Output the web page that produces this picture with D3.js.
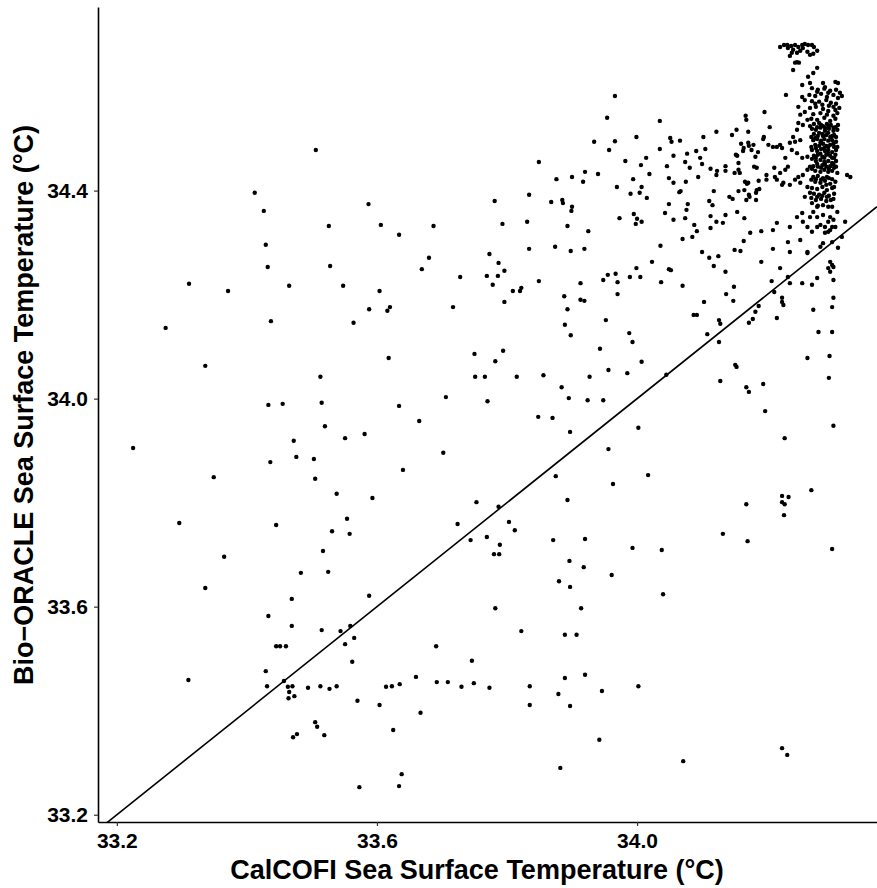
<!DOCTYPE html>
<html>
<head>
<meta charset="utf-8">
<script src="https://cdn.jsdelivr.net/npm/d3@7"></script>
<style>
  html, body { margin: 0; padding: 0; background: #fff; }
  svg { display: block; font-family: "Liberation Sans", Arial, sans-serif; }
</style>
</head>
<body>
<div id="chart"></div>
<script>
// Axis ticks and limits
const xTicks = [33.2, 33.6, 34.0];
const yTicks = [33.2, 33.6, 34.0, 34.4];
const xDomain = [33.171, 34.369];
const yDomain = [33.186, 34.753];

// [CalCOFI SST, Bio-ORACLE SST] per station
const westPairs = [
  [33.412,34.396],[33.426,34.361],[33.526,34.332],[33.429,34.296],[33.432,34.253],[33.528,34.255],
  [33.311,34.221],[33.371,34.207],[33.465,34.217],[33.548,34.217],[33.437,34.149],[33.564,34.146],
  [33.275,34.136],[33.336,34.063],[33.513,34.042],[33.433,33.988],[33.455,33.990],[33.515,33.992],
  [33.520,33.947],[33.551,33.924],[33.472,33.919],[33.225,33.905],[33.476,33.888],[33.503,33.884],
  [33.436,33.878],[33.349,33.849],[33.505,33.846],[33.538,33.817],[33.506,34.478],
  [33.296,33.761],[33.445,33.757],[33.554,33.769],[33.531,33.745],[33.558,33.740],[33.365,33.696],
  [33.517,33.707],[33.483,33.665],[33.525,33.667],[33.336,33.636],[33.469,33.615],[33.433,33.582],
  [33.469,33.563],[33.515,33.555],[33.544,33.553],[33.559,33.563],[33.565,33.540],[33.551,33.528],
  [33.445,33.524],[33.451,33.524],[33.460,33.524],[33.562,33.494],[33.429,33.476],[33.310,33.459],
  [33.457,33.457],[33.431,33.447],[33.463,33.446],[33.470,33.447],[33.465,33.436],[33.464,33.424],
  [33.473,33.428],[33.494,33.444],[33.513,33.447],[33.527,33.442],[33.538,33.447],[33.570,33.419],
  [33.505,33.378],[33.508,33.369],[33.519,33.353],[33.471,33.349],[33.477,33.355],[33.573,33.253]
];

const centralNorthPairs = [
  [33.966,34.582],[33.954,34.540],[33.934,34.494],[33.966,34.495],[33.957,34.478],[33.849,34.455],
  [33.876,34.422],[33.900,34.426],[33.920,34.436],[33.917,34.417],[33.940,34.432],[33.969,34.407],
  [33.587,34.374],[33.781,34.380],[33.834,34.392],[33.868,34.378],[33.885,34.382],[33.886,34.376],
  [33.900,34.369],[33.899,34.361],[33.973,34.347],[33.606,34.334],[33.687,34.332],[33.793,34.336],
  [33.831,34.340],[33.893,34.332],[33.925,34.322],[33.634,34.315],[33.834,34.288],[33.874,34.292],
  [33.898,34.284],[33.919,34.288],[33.773,34.278],[33.680,34.271],[33.669,34.249],[33.787,34.261],
  [33.796,34.246],[33.728,34.234],[33.769,34.236],[33.786,34.236],[33.778,34.219],[33.849,34.226],
  [33.809,34.207],[33.820,34.207],[33.822,34.213],[33.796,34.186],[33.604,34.207],[33.588,34.172],
  [33.616,34.169],[33.620,34.176],[33.717,34.176],[33.913,34.222],[33.888,34.197],[33.913,34.190],
  [33.919,34.188],[33.893,34.172],[33.948,34.228],[33.955,34.238],[33.967,34.240],[33.970,34.224],
  [33.970,34.201],[33.889,34.142],[33.898,34.122],[33.952,34.151],[33.943,34.096],[33.618,34.078],
  [33.750,34.086],[33.782,34.072],[33.794,34.092],[33.751,34.042],[33.766,34.042],[33.815,34.042],
  [33.856,34.045],[33.927,34.042],[33.956,34.055],[33.884,34.022],[33.706,34.003],[33.770,33.995],
  [33.895,34.001],[33.924,33.997],[33.948,33.997],[33.634,33.986],[33.665,33.957],[33.848,33.965],
  [33.870,33.963],[33.581,33.932],[33.897,33.936],[33.956,33.903]
];

const centralSouthPairs = [
  [33.702,33.896],[33.640,33.863],[33.593,33.809],[33.753,33.801],[33.787,33.792],[33.875,33.851],
  [33.893,33.805],[33.963,33.836],[33.724,33.759],[33.803,33.763],[33.812,33.747],[33.744,33.728],
  [33.769,33.734],[33.789,33.719],[33.780,33.701],[33.788,33.701],[33.871,33.728],[33.920,33.730],
  [33.896,33.688],[33.918,33.676],[33.961,33.661],[33.880,33.649],[33.897,33.638],[33.588,33.621],
  [33.782,33.597],[33.914,33.597],[33.822,33.553],[33.889,33.546],[33.907,33.546],[33.691,33.524],
  [33.746,33.496],[33.660,33.465],[33.614,33.446],[33.623,33.447],[33.635,33.451],[33.692,33.455],
  [33.709,33.455],[33.730,33.446],[33.749,33.453],[33.773,33.444],[33.835,33.447],[33.889,33.463],
  [33.920,33.469],[33.879,33.432],[33.946,33.438],[33.604,33.411],[33.667,33.396],[33.835,33.411],
  [33.897,33.409],[33.625,33.363],[33.942,33.344],[33.882,33.290],[33.638,33.278],[33.634,33.255]
];

const eastSouthPairs = [
  [33.988,34.126],[33.993,34.109],[34.007,34.071],[33.985,34.049],[34.045,34.046],[34.108,34.124],
  [34.126,34.109],[34.128,34.034],[34.151,34.065],[34.153,34.061],[34.168,34.022],[34.172,34.013],
  [34.194,34.028],[34.197,33.976],[34.262,34.078],[34.279,34.128],[34.300,34.128],[34.296,34.082],
  [34.295,34.040],[34.302,33.948],[34.002,33.944],[34.227,33.924],[34.017,33.853],[34.268,33.824],
  [34.223,33.813],[34.233,33.811],[34.223,33.801],[34.227,33.797],[34.226,33.776],[34.168,33.797],
  [34.132,33.740],[34.170,33.726],[33.993,33.713],[34.038,33.709],[34.300,33.711],[34.040,33.624],
  [34.002,33.447],[34.223,33.328],[34.231,33.315],[34.071,33.303]
];

const eastNorthPairs = [
  [34.035,34.534],[33.999,34.503],[33.982,34.457],[34.014,34.463],[34.006,34.449],[34.019,34.432],
  [33.994,34.422],[34.007,34.407],[33.990,34.394],[34.004,34.396],[34.015,34.386],[33.995,34.355],
  [34.000,34.346],[33.998,34.336],[34.007,34.340],[34.035,34.480],[34.051,34.501],[34.053,34.494],
  [34.066,34.496],[34.056,34.467],[34.046,34.447],[34.049,34.424],[34.056,34.415],[34.065,34.397],
  [34.067,34.399],[34.075,34.417],[34.074,34.455],[34.077,34.471],[34.081,34.444],[34.091,34.476],
  [34.097,34.463],[34.102,34.503],[34.105,34.480],[34.100,34.451],[34.094,34.426],[34.122,34.513],
  [34.146,34.507],[34.153,34.517],[34.167,34.544],[34.168,34.536],[34.196,34.551],[34.204,34.522],
  [34.194,34.499],[34.195,34.503],[34.171,34.513],[34.160,34.490],[34.164,34.482],[34.163,34.476],
  [34.171,34.492],[34.172,34.486],[34.179,34.488],[34.176,34.478],[34.186,34.474],[34.182,34.465],
  [34.152,34.469],[34.154,34.467],[34.156,34.453],[34.113,34.442],[34.123,34.438],[34.122,34.430],
  [34.136,34.447],[34.136,34.438],[34.150,34.434],[34.156,34.440],[34.158,34.434],[34.180,34.446],
  [34.184,34.444],[34.199,34.430],[34.211,34.444],[34.209,34.484],[34.202,34.488],[34.166,34.417],
  [34.169,34.413],[34.171,34.415],[34.165,34.401],[34.172,34.392],[34.173,34.388],[34.184,34.401],
  [34.188,34.403],[34.183,34.396],[34.187,34.419],[34.199,34.421],[34.183,34.382],[34.168,34.382],
  [34.156,34.399],[34.147,34.384],[34.142,34.388],[34.118,34.399],[34.111,34.380],[34.116,34.372],
  [34.049,34.374],[34.078,34.374],[34.076,34.363],[34.043,34.357],[34.056,34.344],[34.074,34.347],
  [34.088,34.334],[34.092,34.322],[34.085,34.311],[34.070,34.307],[34.113,34.351],[34.113,34.328],
  [34.122,34.340],[34.132,34.338],[34.136,34.353],[34.154,34.359],[34.165,34.347],[34.174,34.319],
  [34.191,34.322],[34.209,34.324],[34.164,34.303],[34.150,34.286],[34.159,34.284],[34.100,34.282],
  [34.111,34.271],[34.125,34.274],[34.118,34.255],[34.136,34.244],[34.036,34.294],[34.023,34.263],
  [34.049,34.249],[34.052,34.247],[33.999,34.251],[34.005,34.234],[33.989,34.234],[34.037,34.224],
  [34.070,34.217],[34.191,34.263],[34.209,34.288],[34.207,34.226],[34.149,34.215],[34.137,34.201],
  [34.148,34.188],[34.103,34.186],[34.087,34.161],[34.092,34.161],[34.126,34.151],[34.128,34.144],
  [34.187,34.178],[34.182,34.167],[34.178,34.153],[34.172,34.146],[34.211,34.205]
];

const clusterEdgePairs = [
  [34.220,34.676],[34.226,34.680],[34.231,34.680],[34.232,34.674],[34.237,34.678],[34.240,34.671],
  [34.243,34.680],[34.248,34.676],[34.254,34.680],[34.258,34.682],[34.263,34.680],[34.269,34.680],
  [34.272,34.676],[34.277,34.669],[34.271,34.663],[34.266,34.661],[34.262,34.667],[34.251,34.669],
  [34.246,34.665],[34.238,34.665],[34.235,34.659],[34.255,34.674],
  [34.246,34.647],[34.249,34.646],[34.243,34.646],[34.240,34.632],[34.277,34.636],[34.271,34.626],
  [34.263,34.619],[34.254,34.603],[34.266,34.607],[34.286,34.607],[34.289,34.599],[34.305,34.609],
  [34.309,34.607],[34.229,34.584],[34.258,34.574],[34.248,34.561],[34.258,34.551],[34.315,34.582],
  [34.254,34.580],[34.251,34.546],
  [34.215,34.484],[34.220,34.488],[34.223,34.482],[34.240,34.503],[34.246,34.517],[34.248,34.530],
  [34.255,34.526],[34.262,34.536],[34.235,34.492],[34.243,34.494],[34.251,34.497],[34.238,34.478],
  [34.246,34.472],[34.228,34.463],[34.254,34.463],[34.262,34.465],[34.232,34.446],[34.228,34.440],
  [34.220,34.434],[34.212,34.426],[34.225,34.415],[34.235,34.411],[34.243,34.421],[34.248,34.426],
  [34.255,34.430],[34.262,34.440],[34.266,34.446],[34.251,34.415],[34.262,34.407],[34.266,34.396],
  [34.258,34.388],[34.269,34.376],[34.277,34.369],[34.215,34.421],[34.223,34.411],[34.323,34.430],
  [34.328,34.426],
  [34.271,34.359],[34.266,34.349],[34.277,34.349],[34.286,34.353],[34.297,34.349],[34.294,34.340],
  [34.302,34.344],[34.282,34.334],[34.289,34.330],[34.300,34.330],[34.305,34.330],[34.320,34.340],
  [34.308,34.359],[34.300,34.369],[34.254,34.357],[34.246,34.349],[34.255,34.340],[34.215,34.338],
  [34.235,34.330],[34.262,34.330],[34.277,34.330],[34.269,34.321],[34.289,34.319],[34.294,34.321],
  [34.297,34.324],[34.315,34.311],[34.300,34.301],[34.286,34.299],[34.282,34.292],[34.262,34.282],
  [34.262,34.280],[34.251,34.305],[34.232,34.301],[34.235,34.282],[34.309,34.290],[34.297,34.263],
  [34.300,34.257],[34.294,34.251],[34.302,34.253],[34.297,34.244],[34.220,34.251],[34.232,34.234],
  [34.235,34.222],[34.254,34.222],[34.269,34.219],[34.277,34.232],[34.302,34.228],[34.223,34.194],
  [34.223,34.186],[34.225,34.180],[34.271,34.171],[34.300,34.176],[34.302,34.194],[34.215,34.155]
];

const clusterCorePairs = [
  [34.269,34.597],[34.278,34.594],[34.288,34.596],[34.297,34.592],[34.306,34.594],[34.312,34.588],
  [34.265,34.584],[34.274,34.582],[34.283,34.586],[34.292,34.580],[34.302,34.584],[34.309,34.578],
  [34.269,34.572],[34.280,34.571],[34.291,34.574],[34.298,34.569],[34.306,34.567],
  [34.266,34.559],[34.275,34.561],[34.286,34.557],[34.295,34.563],[34.305,34.555],[34.311,34.559],
  [34.271,34.547],[34.282,34.549],[34.292,34.546],[34.302,34.544],[34.308,34.549],
  [34.268,34.538],[34.277,34.536],[34.288,34.540],[34.297,34.534],[34.305,34.538],
  [34.272,34.528],[34.280,34.530],[34.286,34.524],[34.292,34.528],[34.298,34.526],[34.305,34.522],
  [34.269,34.519],[34.275,34.517],[34.282,34.521],[34.289,34.515],[34.295,34.519],[34.302,34.515],
  [34.308,34.517],[34.272,34.509],[34.278,34.505],[34.285,34.509],[34.291,34.507],[34.297,34.503],
  [34.303,34.507],[34.271,34.497],[34.277,34.499],[34.283,34.496],[34.288,34.499],[34.294,34.496],
  [34.300,34.497],[34.306,34.494],[34.274,34.488],[34.280,34.486],[34.286,34.490],[34.291,34.486],
  [34.297,34.488],[34.303,34.484],[34.269,34.478],[34.277,34.476],[34.283,34.480],[34.289,34.476],
  [34.294,34.478],[34.300,34.474],[34.306,34.478],[34.272,34.467],[34.278,34.469],[34.285,34.465],
  [34.291,34.469],[34.297,34.467],[34.303,34.463],[34.275,34.457],[34.282,34.459],[34.288,34.455],
  [34.294,34.457],[34.300,34.453],[34.306,34.457],[34.271,34.447],[34.278,34.446],[34.285,34.449],
  [34.291,34.446],[34.297,34.447],[34.303,34.444],[34.274,34.438],[34.282,34.436],[34.288,34.440],
  [34.294,34.436],[34.300,34.438],[34.308,34.434],
  [34.271,34.426],[34.278,34.428],[34.286,34.424],[34.292,34.426],[34.300,34.422],[34.274,34.417],
  [34.282,34.415],[34.289,34.419],[34.297,34.413],[34.305,34.417],[34.269,34.405],[34.277,34.403],
  [34.285,34.407],[34.292,34.401],[34.300,34.405],[34.272,34.394],[34.280,34.392],[34.288,34.396],
  [34.295,34.390],[34.303,34.394],[34.275,34.382],[34.283,34.384],[34.291,34.380],[34.298,34.382],
  [34.278,34.371],[34.286,34.372],[34.294,34.369]
];

const clusterFillPairs = [
  [34.266,34.524],[34.277,34.522],[34.283,34.526],[34.289,34.521],[34.295,34.524],[34.302,34.521],
  [34.309,34.526],[34.268,34.503],[34.274,34.501],[34.280,34.511],[34.286,34.505],[34.294,34.511],
  [34.300,34.505],[34.306,34.503],[34.268,34.484],[34.275,34.482],[34.282,34.492],[34.288,34.482],
  [34.294,34.484],[34.302,34.490],[34.308,34.484],[34.269,34.461],[34.275,34.463],[34.282,34.471],
  [34.288,34.463],[34.294,34.471],[34.300,34.463],[34.305,34.469],[34.269,34.442],[34.277,34.451],
  [34.283,34.444],[34.289,34.451],[34.295,34.442],[34.302,34.451],[34.306,34.446],[34.268,34.421],
  [34.275,34.422],[34.283,34.421],[34.291,34.411],[34.295,34.424],[34.303,34.407],[34.268,34.386],
  [34.277,34.388],[34.285,34.390],[34.292,34.388],[34.302,34.384],[34.274,34.567],[34.285,34.565],
  [34.294,34.553],[34.302,34.561],[34.277,34.590],[34.294,34.588]
];

const stations = [].concat(westPairs, centralNorthPairs, centralSouthPairs,
  eastSouthPairs, eastNorthPairs, clusterEdgePairs, clusterCorePairs, clusterFillPairs);

const width = 877;
const height = 888;
const margin = { top: 7, right: 0, bottom: 66, left: 98 };

const svg = d3.select('#chart')
  .append('svg')
  .attr('width', width)
  .attr('height', height);

const x = d3.scaleLinear().domain(xDomain).range([margin.left, width - margin.right]);
const y = d3.scaleLinear().domain(yDomain).range([height - margin.bottom, margin.top]);

// Panel clip for the 1:1 line
svg.append('clipPath')
  .attr('id', 'panel-clip')
  .append('rect')
  .attr('x', margin.left)
  .attr('y', margin.top)
  .attr('width', width - margin.left - margin.right)
  .attr('height', height - margin.top - margin.bottom);

// Points
svg.append('g')
  .selectAll('circle')
  .data(stations)
  .join('circle')
  .attr('cx', d => x(d[0]))
  .attr('cy', d => y(d[1]))
  .attr('r', 2.2)
  .attr('fill', '#000');

// 1:1 reference line
const oneToOne = [xDomain[0], xDomain[1]];
svg.append('path')
  .attr('clip-path', 'url(#panel-clip)')
  .attr('d', d3.line().x(d => x(d)).y(d => y(d))(oneToOne))
  .attr('fill', 'none')
  .attr('stroke', '#000')
  .attr('stroke-width', 1.6);

// Axes
const xAxis = svg.append('g')
  .attr('transform', `translate(0,${height - margin.bottom})`)
  .call(d3.axisBottom(x).tickValues(xTicks).tickFormat(d3.format('.1f'))
    .tickSize(4).tickSizeOuter(0).tickPadding(7));

const yAxis = svg.append('g')
  .attr('transform', `translate(${margin.left},0)`)
  .call(d3.axisLeft(y).tickValues(yTicks).tickFormat(d3.format('.1f'))
    .tickSize(4).tickSizeOuter(0).tickPadding(6));

[xAxis, yAxis].forEach(axis => {
  axis.select('.domain').attr('stroke', '#000').attr('stroke-width', 1.6);
  axis.selectAll('.tick line').attr('stroke', '#333').attr('stroke-width', 1.2);
  axis.selectAll('.tick text')
    .attr('fill', '#000')
    .attr('font-size', '21px')
    .attr('font-weight', 'bold')
    .attr('font-family', '"Liberation Sans", Arial, sans-serif');
});

// Axis titles
svg.append('text')
  .attr('x', 477)
  .attr('y', 879)
  .attr('text-anchor', 'middle')
  .attr('font-size', '27px')
  .attr('font-weight', 'bold')
  .attr('fill', '#000')
  .text('CalCOFI Sea Surface Temperature (°C)');

svg.append('text')
  .attr('transform', 'translate(33,405) rotate(-90)')
  .attr('text-anchor', 'middle')
  .attr('font-size', '27px')
  .attr('font-weight', 'bold')
  .attr('fill', '#000')
  .text('Bio\u2212ORACLE Sea Surface Temperature (°C)');
</script>
</body>
</html>
